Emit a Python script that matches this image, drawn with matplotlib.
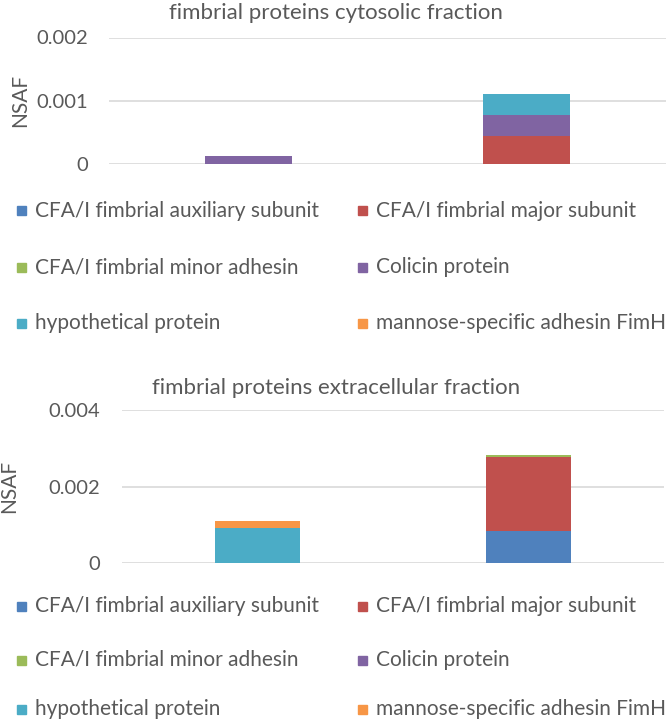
import matplotlib
matplotlib.use('Agg')
import matplotlib.pyplot as plt
from matplotlib.patches import Rectangle
import numpy as np

plt.rcParams['font.family'] = ['Lato', 'DejaVu Sans']

# samples (no category labels are shown on the x axis)
samples = ['', '']
proteins = ['CFA/I fimbrial auxiliary subunit', 'CFA/I fimbrial major subunit',
            'CFA/I fimbrial minor adhesin', 'Colicin protein',
            'hypothetical protein', 'mannose-specific adhesin FimH']
colors = ['#4F81BD', '#C0504D', '#9BBB59', '#8064A2', '#4BACC6', '#F79646']

# NSAF values, cytosolic fraction
cyto_aux = [0, 0]
cyto_major = [0, 0.00045]
cyto_minor = [0, 0]
cyto_colicin = [0.000126, 0.00032]
cyto_hypo = [0, 0.00034]
cyto_mannose = [0, 0]

# NSAF values, extracellular fraction
extra_aux = [0, 0.000835]
extra_major = [0, 0.00193]
extra_minor = [0, 0.00006]
extra_colicin = [0, 0]
extra_hypo = [0.00093, 0]
extra_mannose = [0.000175, 0]

W, H = 666, 719
fig = plt.figure(figsize=(W / 100, H / 100), dpi=100)
grey = '#595959'


def px_axes(left, right, top, bottom):
    return fig.add_axes([left / W, 1 - bottom / H, (right - left) / W, (bottom - top) / H])


def draw_panel(ax, series, ymax, step, title, title_y, ylab_x, pad):
    x = np.arange(len(samples))
    base = np.zeros(len(samples))
    for vals, c in zip(series, colors):
        ax.bar(x, vals, width=0.313, bottom=base, color=c, edgecolor='none', zorder=3)
        base = base + np.array(vals)
    ax.set_xlim(-0.5, 1.5)
    ax.set_ylim(0, ymax)
    ticks = np.arange(0, ymax + step / 2, step)
    ax.set_yticks(ticks)
    ax.set_yticklabels(['0' if t == 0 else f'{t:.3f}' for t in ticks])
    ax.set_xticks([])
    ax.grid(axis='y', color='#D9D9D9', linewidth=1.2, zorder=0)
    for s in ax.spines.values():
        s.set_visible(False)
    ax.tick_params(axis='y', length=0, pad=pad, labelsize=14.5, labelcolor=grey)
    ax.set_axisbelow(True)
    fig.text(336 / W, 1 - title_y / H, title, ha='center', va='center', fontsize=16, color=grey)
    b = ax.get_position()
    fig.text(ylab_x / W, b.y0 + b.height / 2, 'NSAF', rotation=90, ha='center', va='center',
             fontsize=15, color=grey)


def draw_legend(rows_y):
    for i, (name, c) in enumerate(zip(proteins, colors)):
        row, col = i // 2, i % 2
        mx = 17 if col == 0 else 358
        y = rows_y[row]
        fig.patches.append(Rectangle((mx / W, 1 - (y + 4.5) / H), 9 / W, 9 / H,
                                     transform=fig.transFigure, color=c, figure=fig))
        fig.text((mx + 18) / W, 1 - y / H, name, ha='left', va='center', fontsize=15, color=grey)


ax1 = px_axes(109, 665.5, 37.5, 164)
draw_panel(ax1, [cyto_aux, cyto_major, cyto_minor, cyto_colicin, cyto_hypo, cyto_mannose],
           0.002, 0.001, 'fimbrial proteins cytosolic fraction', 13, 20, 15)
draw_legend([211, 267, 323])

ax2 = px_axes(121.7, 664, 410, 563.3)
draw_panel(ax2, [extra_aux, extra_major, extra_minor, extra_colicin, extra_hypo, extra_mannose],
           0.004, 0.002, 'fimbrial proteins extracellular fraction', 388, 9, 15.6)
draw_legend([606, 660, 709])

fig.savefig('out.png', dpi=100)
